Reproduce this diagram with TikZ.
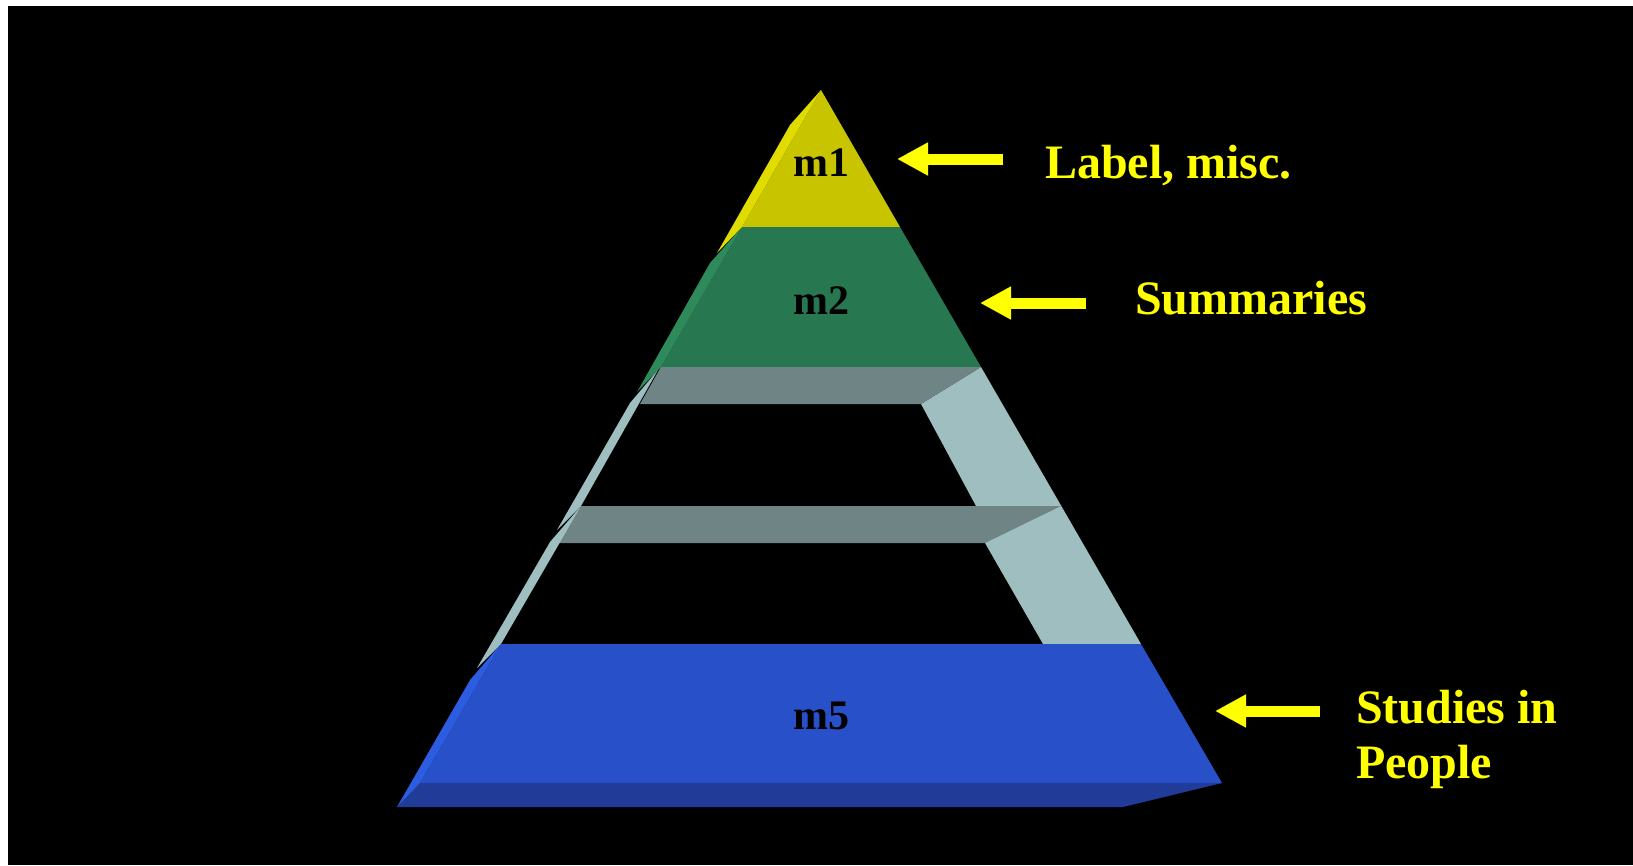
\documentclass[tikz,border=0pt]{standalone}
\usepackage{fontspec}
\setmainfont{Liberation Serif}
\usetikzlibrary{arrows.meta, positioning, calc}

\definecolor{tipfront}{RGB}{200,196,0}
\definecolor{tipside}{RGB}{224,220,0}
\definecolor{sumfront}{RGB}{39,120,80}
\definecolor{sumside}{RGB}{46,138,90}
\definecolor{rimdark}{RGB}{111,133,133}
\definecolor{rimlight}{RGB}{159,190,192}
\definecolor{basefront}{RGB}{40,80,200}
\definecolor{basebottom}{RGB}{32,60,152}
\definecolor{baseside}{RGB}{44,92,224}
\definecolor{callout}{RGB}{255,255,0}

\begin{document}
\begin{tikzpicture}[x=1pt, y=-1pt, >=Stealth,
  layertext/.style={font=\bfseries\fontsize{42}{48}\selectfont, text=black, inner sep=0pt},
  sidetext/.style={font=\bfseries\fontsize{48}{55}\selectfont, text=callout, inner sep=0pt, align=left},
  pointer/.style={callout, line width=11pt, -{Triangle[length=31pt, width=31pt]}}]
  \useasboundingbox (0,0) rectangle (1633,865);
  \fill[white] (0,0) rectangle (1633,865);
  \fill[black] (8,6) rectangle (1633,865);

  % top layer
  \fill[tipfront] (821,90) -- (900,227) -- (742,227) -- cycle;
  % second layer
  \fill[sumfront] (742,227) -- (900,227) -- (981,367) -- (661,367) -- cycle;
  \fill[sumside] (742,227) -- (710,263) -- (637,392) -- (661,367) -- cycle;
  \fill[tipside] (821,90) -- (790,125) -- (717,253) -- (742,227) -- cycle;

  % empty middle layers
  \fill[rimlight] (981,367) -- (1141,644) -- (1043,644) -- (985,543) -- (976,506) -- (921,404) -- cycle;
  \fill[rimdark] (661,367) -- (981,367) -- (921,404) -- (640,404) -- cycle;
  \fill[rimdark] (581,506) -- (1061,506) -- (985,543) -- (559,543) -- cycle;
  \fill[rimlight] (658,370) -- (630,403) -- (557,530) -- (581,506) -- cycle;
  \fill[rimlight] (581,506) -- (550,542) -- (477,668) -- (501,644) -- cycle;

  % base layer
  \fill[basefront] (501,644) -- (1141,644) -- (1222,783) -- (420,783) -- cycle;
  \fill[basebottom] (420,783) -- (1222,783) -- (1123,807) -- (397,807) -- cycle;
  \fill[baseside] (501,644) -- (470,680) -- (397,807) -- (420,783) -- cycle;

  \node[layertext, anchor=base] (m1) at (821,176) {m1};
  \node[layertext, anchor=base] (m2) at (821,314) {m2};
  \node[layertext, anchor=base] (m5) at (821,729) {m5};

  \node[sidetext, anchor=base west] (misc) at (1045,178) {Label, misc.};
  \node[sidetext, anchor=base west] (summ) at (1135,314) {Summaries};
  \node[sidetext, anchor=base west] (study) at (1356,778) {Studies in\\People};

  \coordinate (miscTail) at (1003,159);
  \coordinate (miscTip) at (897,159);
  \coordinate (summTail) at (1086,303);
  \coordinate (summTip) at (980,303);
  \coordinate (studyTail) at (1320,711);
  \coordinate (studyTip) at (1215,711);
  \draw[pointer] (miscTail) -- (miscTip);
  \draw[pointer] (summTail) -- (summTip);
  \draw[pointer] (studyTail) -- (studyTip);
\end{tikzpicture}
\end{document}
